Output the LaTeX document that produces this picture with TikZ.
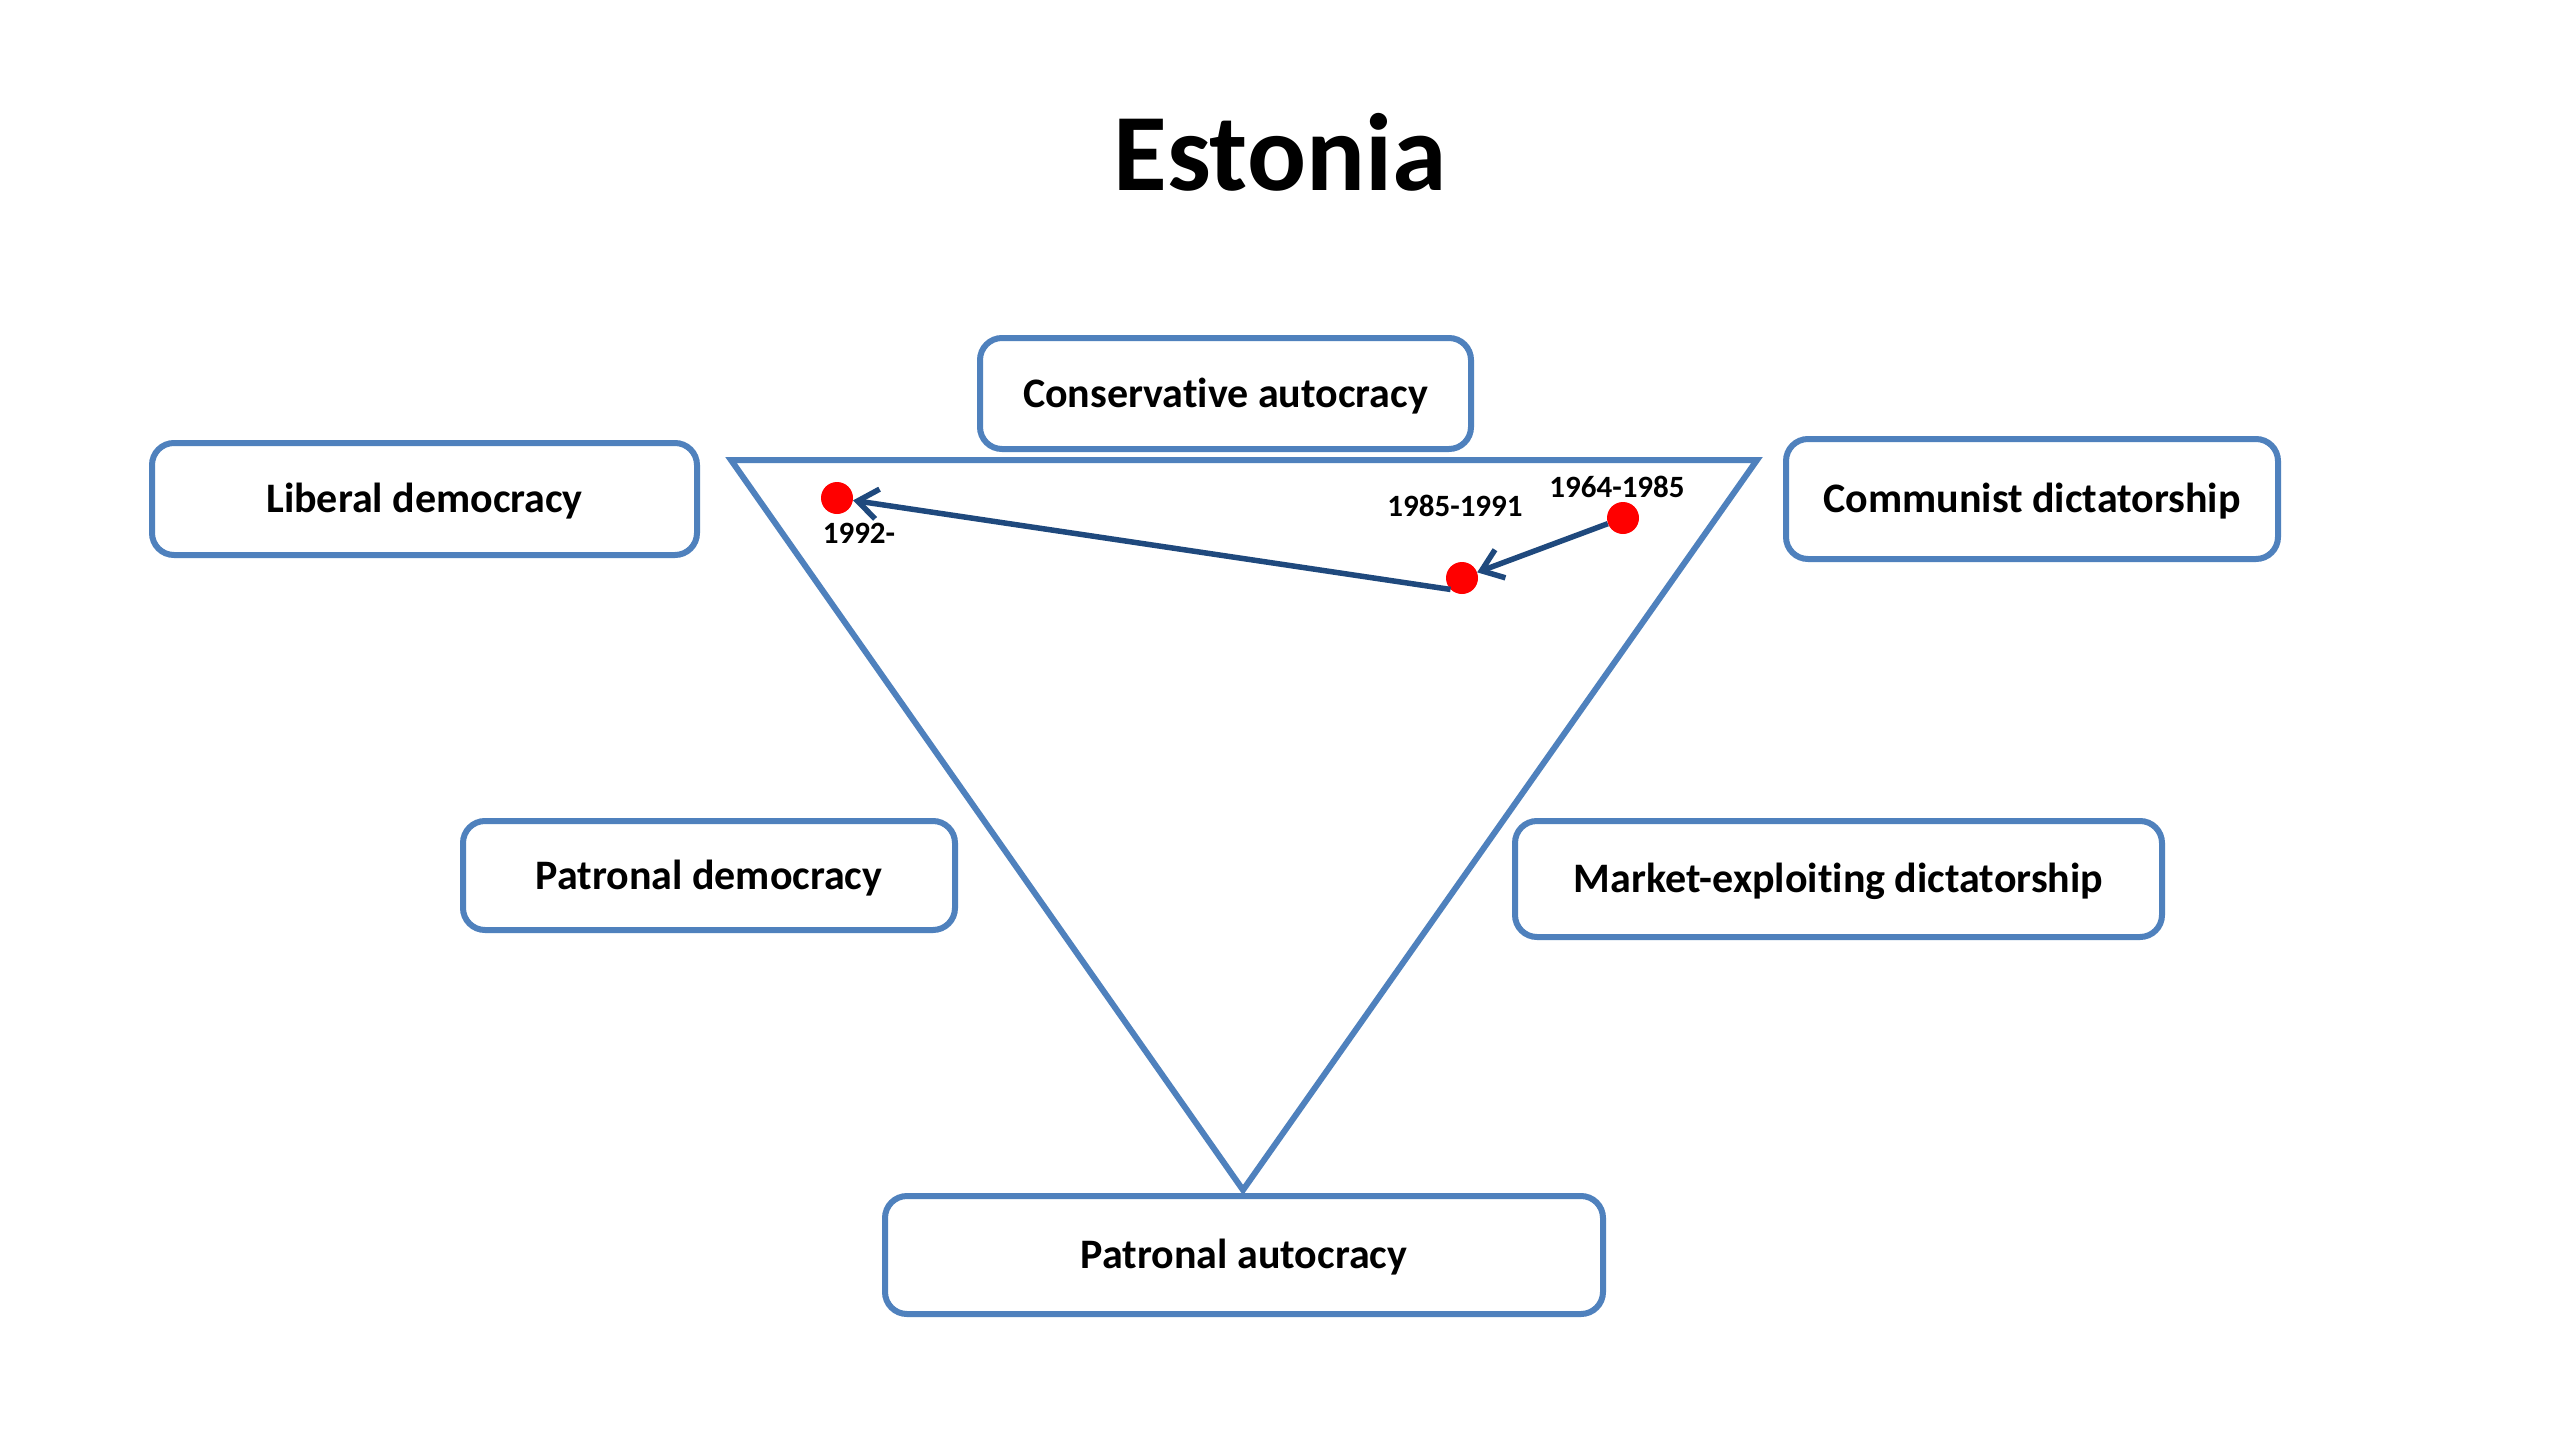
\documentclass[tikz,border=0pt]{standalone}
\usepackage{fontspec}
\setmainfont{Carlito}[Ligatures={NoCommon}]
\usetikzlibrary{arrows.meta}
\definecolor{boxblue}{HTML}{4F81BD}
\definecolor{arrblue}{HTML}{1F497D}
\definecolor{dotred}{HTML}{FF0000}
\begin{document}
\begin{tikzpicture}[x=1pt,y=-1pt,
  regime/.style={draw=boxblue, line width=6pt, fill=white, rounded corners=22pt,
    font=\fontsize{42}{50}\selectfont\bfseries, text height=35.4pt, text depth=8.4pt,
    inner sep=0pt, align=center},
  dot/.style={circle, fill=dotred, minimum size=32pt, inner sep=0pt},
  datelabel/.style={font=\fontsize{31}{36}\selectfont\bfseries, inner sep=0pt},
  arr/.style={draw=arrblue, line width=5.5pt, -{Straight Barb[length=20pt,width=30pt]}}
]
\useasboundingbox[fill=white] (0,0) rectangle (2560,1440);

% title
\node[font=\fontsize{110}{130}\selectfont\bfseries, anchor=base, inner sep=0pt] (title) at (1280,190) {Estonia};

% triangle
\draw[boxblue, line width=6pt, line join=miter] (731,460) -- (1757,460) -- (1243,1190) -- cycle;

% regime boxes
\node[regime, minimum width=491pt, minimum height=111pt] (cons) at (1225.5,393.5) {Conservative autocracy};
\node[regime, minimum width=545pt, minimum height=112pt] (lib) at (424.5,499) {Liberal democracy};
\node[regime, minimum width=492pt, minimum height=120pt] (comm) at (2032,499) {Communist dictatorship};
\node[regime, minimum width=492pt, minimum height=109pt] (pdem) at (709,875.5) {Patronal democracy};
\node[regime, minimum width=647pt, minimum height=116pt] (mkt) at (1838.5,879) {Market-exploiting dictatorship};
\node[regime, minimum width=718pt, minimum height=118pt] (paut) at (1244,1255) {Patronal autocracy};

% points
\node[dot] (a) at (837,498) {};
\node[dot] (b) at (1462,578) {};
\node[dot] (c) at (1623,518) {};

\node[datelabel] (la) at (859,533) {1992-};
\node[datelabel] (lb) at (1455,506) {1985-1991};
\node[datelabel] (lc) at (1617,487) {1964-1985};

% arrows
\draw[arr] (c) -- (b);
\draw[arr] (b.225) -- (a);

\end{tikzpicture}
\end{document}
